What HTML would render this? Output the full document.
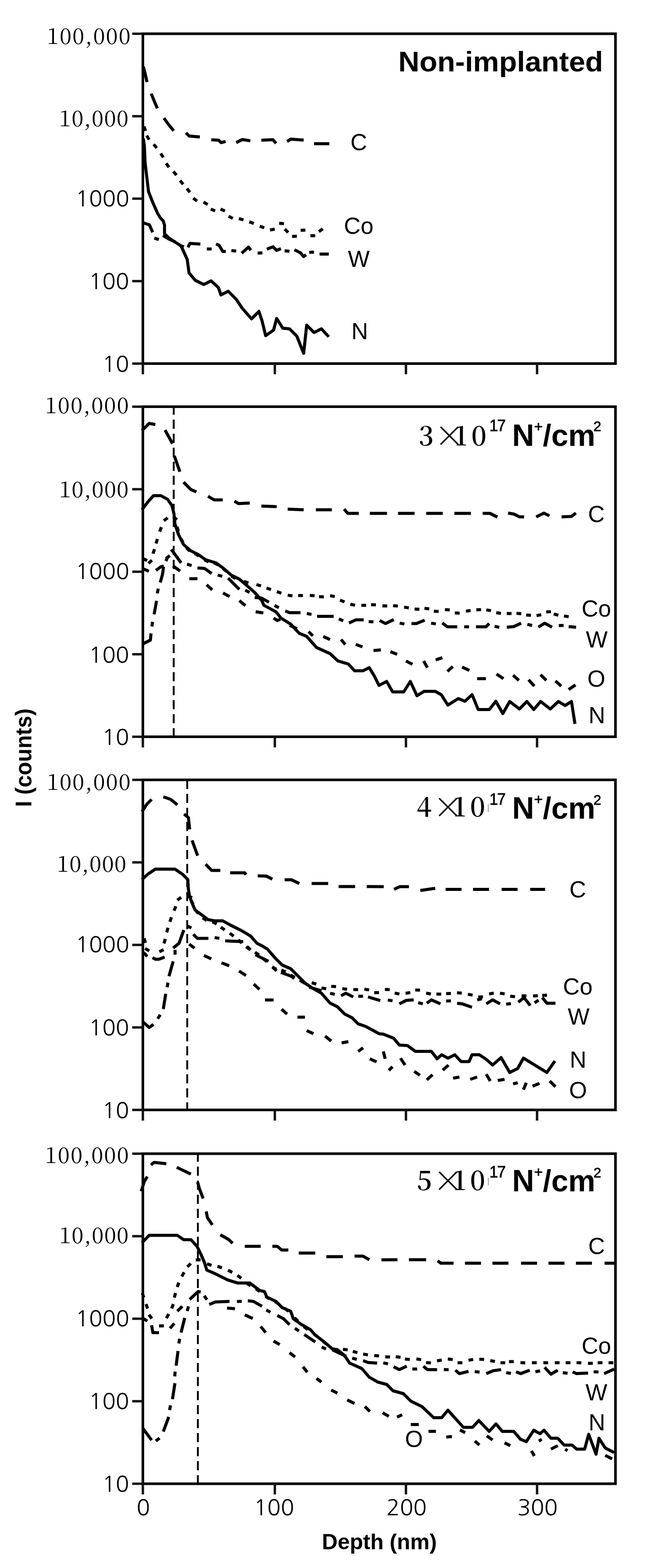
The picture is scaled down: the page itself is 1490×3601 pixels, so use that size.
<!DOCTYPE html><html><head><meta charset="utf-8"><title>SIMS depth profiles</title>
<style>html,body{margin:0;padding:0;background:#fff;}svg{display:block;}.s{font-family:'Liberation Sans', Arial, Helvetica, sans-serif;}.r{font-family:'Noto Serif CJK SC', 'Liberation Serif', serif;}.d{font-family:'NanumGothic', 'Liberation Sans', sans-serif;}</style></head><body>
<svg width="1490" height="3601" viewBox="0 0 1490 3601">
<rect width="1490" height="3601" fill="#fff"/>
<g><rect x="328" y="77.5" width="1085" height="757.5" fill="none" stroke="#000" stroke-width="6"/><line x1="303.5" y1="77.5" x2="328" y2="77.5" stroke="#111" stroke-width="5.5"/><line x1="303.5" y1="266.9" x2="328" y2="266.9" stroke="#111" stroke-width="5.5"/><line x1="303.5" y1="456.2" x2="328" y2="456.2" stroke="#111" stroke-width="5.5"/><line x1="303.5" y1="645.6" x2="328" y2="645.6" stroke="#111" stroke-width="5.5"/><line x1="303.5" y1="835" x2="328" y2="835" stroke="#111" stroke-width="5.5"/><line x1="328" y1="835" x2="328" y2="859.5" stroke="#111" stroke-width="5.5"/><line x1="631" y1="835" x2="631" y2="859.5" stroke="#111" stroke-width="5.5"/><line x1="932" y1="835" x2="932" y2="859.5" stroke="#111" stroke-width="5.5"/><line x1="1233" y1="835" x2="1233" y2="859.5" stroke="#111" stroke-width="5.5"/><text class="r" x="107.4" y="101" font-size="50" letter-spacing="1.85">100,000</text><text class="r" x="135.5" y="289.8" font-size="50" letter-spacing="1.15">10,000</text><text class="d" x="173.3" y="473.5" font-size="51">1000</text><text class="d" x="203.8" y="664" font-size="51">100</text><text class="d" x="234.6" y="853.5" font-size="51">10</text><g fill="none" stroke="#000" stroke-width="7" stroke-linejoin="round" stroke-linecap="butt"><polyline points="329,153 333,168 337.5,188.5"/><polyline points="347.2,215 354,232 361.3,248.8"/><polyline points="376.3,271.3 387,286 398.8,300.4"/><polyline points="427,305 434.4,312.6 458.8,314.5"/><polyline points="485,321 502,322 507.6,327.6 518,324.8"/><polyline points="542.3,327.5 556.4,320.5 574.7,323.3"/><polyline points="600,322 626.7,320.8 633.8,329.3"/><polyline points="659,325 667.5,319.4 697.1,321.7"/><polyline points="721,330 756.2,330"/><polyline points="330.6,290.3 334.2,300.7"/><polyline points="336.8,311.3 342.4,320.7"/><polyline points="352.9,331.3 359.7,339.9"/><polyline points="369,352.4 375,361.6"/><polyline points="381.5,375.1 387.9,384.1"/><polyline points="398.1,393.7 405.1,402.3"/><polyline points="413.6,414.7 420.4,423.3"/><polyline points="429.2,433 436,441.6"/><polyline points="443.6,455.1 452.4,461.7"/><polyline points="467.3,464.1 476.7,469.7"/><polyline points="483.8,480.3 494,484.3"/><polyline points="506.3,480.2 516.5,484.4"/><polyline points="524.8,496.7 534.6,501.7"/><polyline points="548.3,502.2 558.9,504.8"/><polyline points="572.3,509.4 582.7,513.2"/><polyline points="596.3,519.6 606.7,523"/><polyline points="619.9,528.2 630.7,526.2"/><polyline points="640.9,512.7 651.9,513.7"/><polyline points="653.8,526.1 661.6,533.9"/><polyline points="670.5,542.9 681.5,542.5"/><polyline points="690.2,528.9 701.2,528.5"/><polyline points="712.7,541.3 723.7,541.3"/><polyline points="732,531.8 741,525.6"/><polyline points="328,511 331,512.5 343,516.3 350.5,533.5"/><polyline points="354.3,546.8 364.7,550.2"/><polyline points="374,541 388,549 403,556"/><polyline points="411.9,562.9 422.1,567.1"/><polyline points="431.6,568 436,559 460,560.5"/><polyline points="474.9,571.8 485.9,571.8"/><polyline points="496,560.5 503,563.3 511.4,577.4 518.4,577.4"/><polyline points="531.2,575.4 542.2,576.6"/><polyline points="555,581.6 570.5,567.5 576,574.6"/><polyline points="591.5,581.3 602.5,580.7"/><polyline points="612.7,572.3 626.7,566.7 635.2,575 645,570.9"/><polyline points="653.5,576 664.5,577"/><polyline points="676,573.7 690,580.7 697.1,589.2 702.7,585"/><polyline points="709.9,579.6 720.9,579"/><polyline points="733.7,583.5 754.8,583.5"/></g><polyline fill="none" stroke="#000" stroke-width="7" stroke-linejoin="round" points="329,318 331.5,335 333,372.6 338.3,417.6 341,440 351,465.5 362.2,490.8 367.8,500 374.9,507.7 377.7,516.9 377.7,536.6 387.5,546.4 400.2,554.9 415.7,564.7 429.8,595.7 434,626.7 448,643.5 467.8,653.4 484.6,645 501.5,660.4 507.2,677.3 524,668.9 542.3,687.2 556.4,708.3 577.5,732.2 594.4,715.3 601.5,736.4 609.9,771 628.1,758 635.2,731.3 649.3,753.8 664.7,755.2 681.6,772.1 697.1,811.5 704.1,746.8 721,763.7 737.9,755.2 754.8,773.5"/></g>
<g><rect x="328" y="934" width="1085" height="758" fill="none" stroke="#000" stroke-width="6"/><line x1="303.5" y1="934" x2="328" y2="934" stroke="#111" stroke-width="5.5"/><line x1="303.5" y1="1123.5" x2="328" y2="1123.5" stroke="#111" stroke-width="5.5"/><line x1="303.5" y1="1313" x2="328" y2="1313" stroke="#111" stroke-width="5.5"/><line x1="303.5" y1="1502.5" x2="328" y2="1502.5" stroke="#111" stroke-width="5.5"/><line x1="303.5" y1="1692" x2="328" y2="1692" stroke="#111" stroke-width="5.5"/><line x1="328" y1="1692" x2="328" y2="1716.5" stroke="#111" stroke-width="5.5"/><line x1="631" y1="1692" x2="631" y2="1716.5" stroke="#111" stroke-width="5.5"/><line x1="932" y1="1692" x2="932" y2="1716.5" stroke="#111" stroke-width="5.5"/><line x1="1233" y1="1692" x2="1233" y2="1716.5" stroke="#111" stroke-width="5.5"/><text class="r" x="103.2" y="949.2" font-size="50" letter-spacing="1.85">100,000</text><text class="r" x="135.7" y="1141.6" font-size="50" letter-spacing="1.15">10,000</text><text class="d" x="173.3" y="1329.9" font-size="51">1000</text><text class="d" x="203.8" y="1521.5" font-size="51">100</text><text class="d" x="234.6" y="1711.4" font-size="51">10</text><line x1="398.8" y1="931.6" x2="398.8" y2="1692" stroke="#000" stroke-width="4.3" stroke-dasharray="21 11.2"/><g fill="none" stroke="#000" stroke-width="7" stroke-linejoin="round" stroke-linecap="butt"><polyline points="326,989 342.5,972.2 356.6,975"/><polyline points="379,987.7 396,1018.7"/><polyline points="400.2,1046.8 412.9,1083.4"/><polyline points="421.3,1107.3 438.2,1124.2 450.9,1129.8"/><polyline points="477.6,1139.7 491.7,1148.1 511.4,1148.1"/><polyline points="538.1,1151 548,1156.6 573.3,1155.2"/><polyline points="600,1162.2 635.2,1163.6"/><polyline points="660.5,1169.3 697.1,1170.7"/><polyline points="725.2,1170.7 761.8,1170.7"/><polyline points="790,1169.3 798.4,1179 823.8,1179"/><polyline points="849,1179 888.5,1179"/><polyline points="913.8,1179 951.8,1179"/><polyline points="978.5,1179 1016.5,1179"/><polyline points="1043.2,1179 1081.2,1179"/><polyline points="1108,1179 1124.9,1179 1141.8,1187.5"/><polyline points="1166.5,1178.3 1180.4,1180.8 1193,1187.1 1203.2,1187.1"/><polyline points="1231,1187.1 1248.8,1178.3 1261.4,1184.6"/><polyline points="1289.3,1187.1 1312.1,1185.9 1322.2,1178.3"/><polyline points="327.8,1282.8 337.8,1287.2"/><polyline points="340.8,1294 348.8,1286.6"/><polyline points="351.3,1271.5 354.7,1261.1"/><polyline points="358.2,1248.3 361.4,1237.7"/><polyline points="366.4,1220.8 370.6,1210.6"/><polyline points="376.1,1195.8 384.9,1189.2"/><polyline points="397.7,1186.5 406.3,1193.5"/><polyline points="406.4,1209.7 409.6,1220.3"/><polyline points="415.5,1237.1 420.5,1246.9"/><polyline points="428,1258.2 436,1265.8"/><polyline points="447.3,1271.1 456.7,1276.9"/><polyline points="469,1285.6 479,1290.4"/><polyline points="491.1,1292.5 500.9,1297.5"/><polyline points="511.7,1305.6 520.3,1312.4"/><polyline points="531.2,1323.3 540.8,1328.7"/><polyline points="559.7,1335.4 570.3,1338.6"/><polyline points="588.7,1342.5 599.3,1345.5"/><polyline points="611.8,1350.4 622.2,1354"/><polyline points="635.6,1358.9 646,1362.3"/><polyline points="660.6,1366.9 671.4,1368.5"/><polyline points="684.5,1367.7 695.5,1367.7"/><polyline points="711.3,1367.4 722.3,1368"/><polyline points="732.5,1370.3 743.5,1370.7"/><polyline points="757.8,1367.9 768.6,1370.1"/><polyline points="780.7,1378.1 790.9,1382.5"/><polyline points="804.3,1387.7 815.1,1389.9"/><polyline points="829.5,1390.2 840.5,1390.2"/><polyline points="852,1388.7 863,1388.9"/><polyline points="878,1391.2 889,1391.8"/><polyline points="902.5,1391 913.5,1391.8"/><polyline points="927.8,1394.4 938.6,1396"/><polyline points="951.8,1398.7 962.8,1399.3"/><polyline points="974.5,1397.1 985.5,1398.3"/><polyline points="996.1,1403.7 1007.1,1404.3"/><polyline points="1021.5,1399.9 1032.5,1400.7"/><polyline points="1044.2,1407.6 1055.2,1408.2"/><polyline points="1069.6,1403.6 1080.4,1402"/><polyline points="1093.5,1400.5 1104.5,1400.1"/><polyline points="1116.5,1400.6 1127.3,1402.4"/><polyline points="1139.3,1407 1150.1,1408.8"/><polyline points="1163.4,1408.9 1174.4,1409.1"/><polyline points="1185.7,1408.5 1196.7,1409.5"/><polyline points="1208,1412.3 1219,1413.3"/><polyline points="1231.8,1413.7 1242.6,1411.9"/><polyline points="1254,1405.2 1265,1404.8"/><polyline points="1271.3,1410.1 1281.9,1412.9"/><polyline points="1294.8,1414.6 1305.6,1416.4"/><polyline points="328.4,1478.5 345.3,1470 346.7,1454.6"/><polyline points="348.6,1438.9 350.4,1428.1"/><polyline points="353.8,1410.8 359.4,1379.8"/><polyline points="361.1,1362.7 363.3,1351.9"/><polyline points="368,1337.6 373.3,1318 375.5,1301.5"/><polyline points="380.8,1288.5 385.2,1278.5"/><polyline points="393,1262 397,1266.8 415.8,1292.6"/><polyline points="429.3,1295.7 439.9,1298.9"/><polyline points="453.3,1304.3 469.7,1305.5 486,1317.2"/><polyline points="499.7,1320.5 510.3,1323.5"/><polyline points="523.7,1327.7 549.5,1353.5"/><polyline points="563.1,1355.4 572.9,1360.6"/><polyline points="584.7,1372.3 600,1373.3 617.5,1383"/><polyline points="630.3,1390.4 640.1,1395.6"/><polyline points="654.9,1402.9 664.7,1407 690,1407"/><polyline points="704.4,1408.8 715.2,1411.2"/><polyline points="728,1415.5 766,1415.5"/><polyline points="778,1421.4 788,1425.8"/><polyline points="801.2,1430.7 816.7,1423.6 835,1423.6"/><polyline points="846.4,1427.6 857.4,1428"/><polyline points="871.6,1425 885,1432 904,1423"/><polyline points="917.6,1430.8 928.4,1433.2"/><polyline points="944.6,1432 956,1432 975,1424.3"/><polyline points="989.8,1431.1 1000.6,1432.9"/><polyline points="1015.5,1430.7 1027,1439.5 1049.7,1439.5"/><polyline points="1065.7,1439.5 1076.7,1439.5"/><polyline points="1092.8,1439.5 1115.6,1439.5 1123.2,1432"/><polyline points="1135.5,1438.4 1146.3,1440.6"/><polyline points="1163.6,1440.4 1179.4,1439 1196.5,1431.2"/><polyline points="1210.8,1433.9 1221.6,1436.5"/><polyline points="1235.9,1440.4 1250.3,1431.2 1267.4,1440.4"/><polyline points="1282.9,1436.7 1293.9,1436.3"/><polyline points="1305.5,1439 1322.6,1440.4"/><polyline points="328,1306 341.8,1312"/><polyline points="358,1310 369.5,1301.5 376,1300"/><polyline points="381,1283 390,1276"/><polyline points="397,1299.6 413.5,1311.3"/><polyline points="434.6,1329 453.3,1329"/><polyline points="474.4,1343 487.3,1354.7"/><polyline points="512,1361.8 527.2,1370"/><polyline points="549.5,1379.3 563.5,1391"/><polyline points="587,1405 604.6,1407.5"/><polyline points="628,1419.4 636.6,1425 643.6,1422.2"/><polyline points="665,1436 682,1444"/><polyline points="708.4,1450.4 718.2,1460.2"/><polyline points="742.1,1461.6 757.6,1468.7"/><polyline points="783,1468.7 792.8,1480"/><polyline points="816.7,1480 832.2,1485.5"/><polyline points="857.5,1494 874.4,1492.6"/><polyline points="896.5,1496.5 911.7,1502.8"/><polyline points="932,1518 947,1525.6"/><polyline points="972.5,1518 981.3,1533.2"/><polyline points="1000.3,1515.5 1015.5,1510.4"/><polyline points="1027,1542 1039.6,1530.7"/><polyline points="1061,1532 1077.6,1539.6"/><polyline points="1095.3,1558.6 1115.6,1558.6"/><polyline points="1140,1548 1155.8,1558.6"/><polyline points="1178,1550.7 1191.2,1562.6"/><polyline points="1213.5,1561.2 1226.7,1575.7"/><polyline points="1241,1549.4 1254.3,1562.6"/><polyline points="1275.3,1563.9 1288.4,1575.7"/><polyline points="1305.5,1583.6 1321.2,1573"/></g><polyline fill="none" stroke="#000" stroke-width="7" stroke-linejoin="round" points="326,1170.6 339.7,1152.3 352.4,1138.3 369.3,1138.3 384.7,1146.7 394.6,1160.8 399.5,1180 401.5,1203 410,1228 421,1250 437,1264.4 455.7,1273.8 472,1285.5 495.5,1292.6 512,1304.3 530.7,1320.7 549.5,1330 566,1344 584.7,1360.6 601,1379.3 605.8,1390 633.8,1405.3 645,1419.4 667.5,1433.5 687.2,1454.6 704.1,1461.6 726.7,1487 757.6,1501 775.9,1517.9 799.8,1525 813.9,1540.4 833.6,1540.4 847.7,1533.4 858.9,1551.7 870.2,1574.2 887.6,1565 901.5,1589 926.9,1589 942,1565 957.3,1597.8 973.7,1587.7 999,1587.7 1013,1595.3 1028.2,1619.4 1052.2,1604.2 1067.4,1610.5 1083.9,1595.3 1097.8,1629.5 1123.2,1629.5 1138.4,1610.5 1154.4,1638.7 1170.2,1611 1192.5,1628.2 1209.6,1611 1225.4,1629.5 1241.1,1611 1263.5,1628.2 1281.8,1611 1297.6,1620.3 1312,1611 1320,1662.4"/></g>
<g><rect x="328" y="1791" width="1085" height="758" fill="none" stroke="#000" stroke-width="6"/><line x1="303.5" y1="1791" x2="328" y2="1791" stroke="#111" stroke-width="5.5"/><line x1="303.5" y1="1980.5" x2="328" y2="1980.5" stroke="#111" stroke-width="5.5"/><line x1="303.5" y1="2170" x2="328" y2="2170" stroke="#111" stroke-width="5.5"/><line x1="303.5" y1="2359.5" x2="328" y2="2359.5" stroke="#111" stroke-width="5.5"/><line x1="303.5" y1="2549" x2="328" y2="2549" stroke="#111" stroke-width="5.5"/><line x1="328" y1="2549" x2="328" y2="2573.5" stroke="#111" stroke-width="5.5"/><line x1="631" y1="2549" x2="631" y2="2573.5" stroke="#111" stroke-width="5.5"/><line x1="932" y1="2549" x2="932" y2="2573.5" stroke="#111" stroke-width="5.5"/><line x1="1233" y1="2549" x2="1233" y2="2573.5" stroke="#111" stroke-width="5.5"/><text class="r" x="107.4" y="1814.4" font-size="50" letter-spacing="1.85">100,000</text><text class="r" x="130.5" y="2002" font-size="50" letter-spacing="1.15">10,000</text><text class="d" x="173.3" y="2186.7" font-size="51">1000</text><text class="d" x="203.8" y="2378" font-size="51">100</text><text class="d" x="234.6" y="2567.8" font-size="51">10</text><line x1="429.8" y1="1790.9" x2="429.8" y2="2549" stroke="#000" stroke-width="4.3" stroke-dasharray="21 11.2"/><g fill="none" stroke="#000" stroke-width="7" stroke-linejoin="round" stroke-linecap="butt"><polyline points="326,1864 337,1847 348.1,1835.7"/><polyline points="374.9,1830 391.8,1835.7 407.2,1848.3"/><polyline points="422.7,1869.4 432.6,1877.9 435.4,1904.6"/><polyline points="441,1930 453.7,1965.1"/><polyline points="472,1984.8 486,1999 505.8,1999"/><polyline points="528.3,2004.5 562,2004.5 564.9,2008.8"/><polyline points="591.6,2011.6 611.3,2012 625.3,2019"/><polyline points="653.5,2020.5 669,2020.5 687.2,2029"/><polyline points="715.4,2029 753.4,2029"/><polyline points="777.3,2036 815.3,2036"/><polyline points="842,2036 881,2036.2"/><polyline points="904.7,2042.5 917.8,2036.2 938.8,2036.2"/><polyline points="965,2045 999.2,2040"/><polyline points="1022.9,2042.5 1059.6,2042.5"/><polyline points="1086,2042.5 1122.7,2042.5"/><polyline points="1151.6,2042.5 1188.3,2042.5"/><polyline points="1217.2,2042.5 1251.4,2042.5"/><polyline points="331,2154.9 333.8,2165.5"/><polyline points="333.2,2178.2 342.6,2183.8"/><polyline points="365.9,2185.8 375.7,2181"/><polyline points="376.5,2166.8 379.5,2156.2"/><polyline points="382.7,2141.2 385.7,2130.6"/><polyline points="390,2117 393.6,2106.6"/><polyline points="399.5,2091.5 403.7,2081.3"/><polyline points="407.1,2067.3 415.9,2060.7"/><polyline points="430.7,2058.6 441.3,2061.4"/><polyline points="438.7,2067 443.3,2077"/><polyline points="448.7,2089.6 455.3,2098.4"/><polyline points="465.3,2108.1 474.7,2113.9"/><polyline points="487.6,2116.9 497.4,2121.9"/><polyline points="506.8,2129.4 515.8,2135.6"/><polyline points="527.6,2143.3 536.4,2149.9"/><polyline points="546.8,2158.5 555.2,2165.5"/><polyline points="565,2174.4 574,2180.8"/><polyline points="585.5,2186.8 594.5,2193.2"/><polyline points="604.2,2201.5 612.6,2208.5"/><polyline points="624.9,2220.5 634.3,2226.1"/><polyline points="646,2227.8 656,2232.2"/><polyline points="667.2,2239.4 676.8,2244.6"/><polyline points="687.7,2251.1 698.1,2254.7"/><polyline points="715.8,2256.8 726.2,2260.2"/><polyline points="738.1,2269 748.9,2270.6"/><polyline points="760.5,2265.3 771.5,2265.7"/><polyline points="786,2270.4 796.8,2272"/><polyline points="811.2,2272.4 822.2,2272.8"/><polyline points="836.6,2271.8 847.4,2273.4"/><polyline points="859.1,2279.6 870.1,2279.6"/><polyline points="883.7,2272.3 894.7,2272.7"/><polyline points="906.1,2280.8 916.9,2282.6"/><polyline points="931.1,2281.3 941.9,2279.5"/><polyline points="953.3,2273.6 964.3,2274"/><polyline points="978.4,2280.7 989.2,2282.7"/><polyline points="1001.9,2283 1012.9,2283"/><polyline points="1024.2,2282 1035.2,2281.4"/><polyline points="1049.2,2280.1 1060.2,2280.7"/><polyline points="1074.2,2283.4 1085,2285.4"/><polyline points="1097.8,2289.9 1108.8,2289.3"/><polyline points="1122.8,2282.6 1133.6,2280.8"/><polyline points="1147.8,2281 1158.6,2282.4"/><polyline points="1171.3,2287.7 1182.3,2288.9"/><polyline points="1197.5,2287.1 1208.5,2286.9"/><polyline points="1223.8,2287.2 1234.8,2286.8"/><polyline points="1244.8,2286 1255.8,2285.4"/><polyline points="328.4,2347 342.5,2359.6 352.4,2352.6"/><polyline points="362,2339.6 368,2330.4"/><polyline points="374.9,2317.4 380.5,2282.2"/><polyline points="383.7,2267.4 385.7,2256.6"/><polyline points="387.9,2242 397.6,2207.8"/><polyline points="401.9,2192.5 401.9,2181.5"/><polyline points="397.6,2177.3 411,2166.3 422,2135.9"/><polyline points="429.4,2126.5 439.4,2131.1"/><polyline points="443.8,2145.7 453.1,2155 478.5,2155"/><polyline points="492.8,2153.3 503.6,2154.9"/><polyline points="517,2160.7 558.2,2162.6"/><polyline points="567.5,2173.6 575.1,2181.6"/><polyline points="586.4,2192.6 616.4,2207.6"/><polyline points="626.9,2222.3 635.1,2229.7"/><polyline points="645,2233.2 667.5,2241.5 676,2247.2"/><polyline points="691,2252.9 700.4,2258.5"/><polyline points="709.8,2267 738,2275.4"/><polyline points="757.9,2281.1 768.5,2283.7"/><polyline points="783,2286.6 794.2,2281 811,2289.5"/><polyline points="822.5,2288 833.5,2288"/><polyline points="844.9,2289.5 873,2297.9"/><polyline points="890.4,2296.6 901.2,2298.4"/><polyline points="916.8,2305.4 932.5,2297.5 949.6,2296.2"/><polyline points="960.1,2302.6 970.7,2305.4"/><polyline points="979.8,2304 990.3,2296.2 1011.3,2305.4"/><polyline points="1024.2,2299 1035.2,2298.6"/><polyline points="1049.4,2304 1061.2,2305.4 1083.6,2313.2"/><polyline points="1095.6,2296.3 1106.4,2293.7"/><polyline points="1116.4,2305.4 1130.9,2296.2 1148,2305.4"/><polyline points="1162.1,2305.9 1173.1,2304.9"/><polyline points="1190,2301.4 1203,2291 1217.5,2309.3"/><polyline points="1227.4,2303 1236.6,2297"/><polyline points="1245,2291 1255.6,2304 1275.3,2304"/><polyline points="328,2187 333,2190.7 337.9,2196.8"/><polyline points="350,2199.3 357.4,2203 364.7,2203 378,2198"/><polyline points="434.4,2168.2 446.6,2177.6"/><polyline points="468.2,2194.4 485,2202"/><polyline points="508.5,2211.3 526.3,2217.9"/><polyline points="548.8,2230 564.8,2240.4"/><polyline points="582.6,2260 595.7,2272.3"/><polyline points="608.4,2296.5 628.1,2296.5"/><polyline points="646.4,2317.6 659,2328.9"/><polyline points="683,2336 700,2336"/><polyline points="704.1,2366.9 719.6,2373.9"/><polyline points="746.4,2379.5 760.4,2390.8"/><polyline points="784.3,2395 799.8,2392.2"/><polyline points="822.3,2414.7 833.6,2406.3"/><polyline points="849,2431.6 864.6,2438.6"/><polyline points="880,2414.7 884.3,2431.6"/><polyline points="892.7,2458.3 901,2449.8"/><polyline points="919.4,2430.1 930,2446"/><polyline points="951,2460.3 964,2469.5"/><polyline points="979.8,2480 993,2468.2"/><polyline points="1016.6,2457.7 1029.7,2446"/><polyline points="1040.2,2476.1 1054.7,2473.5"/><polyline points="1079.6,2478.7 1095.4,2473.5"/><polyline points="1116.4,2467 1125.6,2482.7"/><polyline points="1142.7,2481.4 1158.4,2478.7"/><polyline points="1178,2489.2 1188.6,2486.6"/><polyline points="1201.7,2502.4 1208.3,2486.6"/><polyline points="1222.7,2494.5 1238.5,2488"/><polyline points="1262.1,2482.7 1275.3,2495.8"/></g><polyline fill="none" stroke="#000" stroke-width="7" stroke-linejoin="round" points="326,2020 339.7,2007.3 356.6,1996 401.6,1996 418.5,2007.3 431.2,2020 432.3,2040 434.5,2055 439,2069 443.5,2080 448,2090 462.5,2100.6 477.5,2111.9 492.5,2114.7 511.3,2114.7 530,2125 556.3,2138.2 575,2149.4 590,2166.3 600,2171.3 614,2179.7 631,2199.4 647.8,2216.3 667.5,2224.7 684.4,2241.6 701.3,2258.5 718.2,2269.8 738,2281 757.6,2303.5 774.5,2312 791.4,2328.9 808.3,2337.3 822.3,2351.4 839.2,2357 870.2,2373.9 880,2375 903.6,2384.2 916.8,2400 935.2,2401.2 953.5,2414.4 990.3,2414.4 1003.5,2431.5 1014,2422.3 1028.4,2430.1 1044.2,2422.3 1058.6,2438 1077,2438 1083.6,2422.3 1100.6,2422.3 1116.4,2432.8 1130.9,2445.9 1150.5,2428.8 1170.2,2463 1188.6,2453.8 1201.7,2430 1255.6,2463 1274,2436.7"/></g>
<g><rect x="328" y="2649.5" width="1085" height="758" fill="none" stroke="#000" stroke-width="6"/><line x1="303.5" y1="2649.5" x2="328" y2="2649.5" stroke="#111" stroke-width="5.5"/><line x1="303.5" y1="2839" x2="328" y2="2839" stroke="#111" stroke-width="5.5"/><line x1="303.5" y1="3028.5" x2="328" y2="3028.5" stroke="#111" stroke-width="5.5"/><line x1="303.5" y1="3218" x2="328" y2="3218" stroke="#111" stroke-width="5.5"/><line x1="303.5" y1="3407.5" x2="328" y2="3407.5" stroke="#111" stroke-width="5.5"/><line x1="328" y1="3407.5" x2="328" y2="3432" stroke="#111" stroke-width="5.5"/><line x1="631" y1="3407.5" x2="631" y2="3432" stroke="#111" stroke-width="5.5"/><line x1="932" y1="3407.5" x2="932" y2="3432" stroke="#111" stroke-width="5.5"/><line x1="1233" y1="3407.5" x2="1233" y2="3432" stroke="#111" stroke-width="5.5"/><text class="r" x="103.2" y="2671.1" font-size="50" letter-spacing="1.85">100,000</text><text class="r" x="135.7" y="2855.2" font-size="50" letter-spacing="1.15">10,000</text><text class="d" x="173.3" y="3046" font-size="51">1000</text><text class="d" x="203.8" y="3236" font-size="51">100</text><text class="d" x="234.6" y="3426" font-size="51">10</text><line x1="454.3" y1="2647.1" x2="454.3" y2="3407.5" stroke="#000" stroke-width="4.3" stroke-dasharray="21 11.2"/><g fill="none" stroke="#000" stroke-width="7" stroke-linejoin="round" stroke-linecap="butt"><polyline points="324.2,2735.7 331.3,2713.2 338.3,2702"/><polyline points="346.7,2675.2 353.8,2669.6 381.9,2672.4"/><polyline points="405.8,2680.8 438.2,2696.3"/><polyline points="453.7,2714.6 457.9,2730 466.4,2752.6"/><polyline points="473.4,2782 476.2,2796.2 487.5,2813.1"/><polyline points="505.8,2835.6 525.5,2846.9 533.9,2855.3"/><polyline points="562,2862.3 598.6,2862.3"/><polyline points="625.3,2862.2 636.6,2862.2 646.4,2870.7 662,2870.7"/><polyline points="685.8,2877.7 723.8,2877.7"/><polyline points="749.2,2886.1 787.2,2886.1"/><polyline points="814,2884.7 833.6,2884.7 847.7,2893.2"/><polyline points="875.8,2893.2 912.5,2893"/><polyline points="938.8,2893 978.2,2893"/><polyline points="1004.5,2895.7 1012.3,2901 1041.2,2901"/><polyline points="1067.5,2901 1104.3,2901"/><polyline points="1130.5,2901 1167.3,2901"/><polyline points="1196.2,2901 1233,2901"/><polyline points="1259.2,2901 1296,2901"/><polyline points="1322.3,2901 1359,2901"/><polyline points="1388,2901 1410,2901"/><polyline points="326.6,2969.4 330.2,2979.8"/><polyline points="335.2,2994.8 338.8,3005.2"/><polyline points="342,3019.4 348.6,3028.2"/><polyline points="365.2,3045.2 376.2,3044.8"/><polyline points="382,3027.2 387.4,3017.6"/><polyline points="394.2,3005.2 397.8,2994.8"/><polyline points="400.2,2979.9 403,2969.3"/><polyline points="406.7,2955.8 410.7,2945.6"/><polyline points="417.3,2931.5 422.7,2921.9"/><polyline points="430,2909.4 438,2901.8"/><polyline points="449.5,2893.5 460.5,2893.1"/><polyline points="475.2,2902.4 485.6,2906"/><polyline points="499.2,2908.2 509.6,2911.6"/><polyline points="523.4,2917.2 533.2,2922.2"/><polyline points="544.9,2929.2 553.9,2935.6"/><polyline points="566.5,2946.8 575.5,2953.2"/><polyline points="587.5,2959.9 596.5,2966.1"/><polyline points="609.4,2977 618.6,2983"/><polyline points="631.4,2989 640.6,2995"/><polyline points="653.8,3004.4 662.2,3011.6"/><polyline points="676,3026.2 684,3033.8"/><polyline points="697.7,3046.5 706.3,3053.5"/><polyline points="719.6,3062.6 728.4,3069.4"/><polyline points="741.6,3080.6 750.4,3087.4"/><polyline points="762.8,3098.3 773.2,3101.7"/><polyline points="787.3,3098.8 798.3,3100"/><polyline points="810,3103.7 820.6,3106.3"/><polyline points="833.8,3109.8 844.6,3111.6"/><polyline points="859.1,3112.9 870.1,3114.1"/><polyline points="884.4,3116 895.4,3116.6"/><polyline points="908.6,3115.8 919.6,3117.2"/><polyline points="929.7,3121.1 940.7,3122.3"/><polyline points="956,3120.8 966.8,3122.6"/><polyline points="978.3,3129.3 989.3,3129.9"/><polyline points="1003.3,3125.3 1014.1,3123.5"/><polyline points="1028.2,3121.1 1039.2,3122.3"/><polyline points="1050.5,3129.4 1061.5,3129.8"/><polyline points="1075.6,3123.9 1086.4,3122.1"/><polyline points="1100.4,3121.4 1111.4,3122"/><polyline points="1125.5,3124.8 1136.3,3126.6"/><polyline points="1149,3129.4 1160,3129.8"/><polyline points="1168.6,3127 1179.6,3127"/><polyline points="1194.9,3129.3 1205.9,3129.9"/><polyline points="1221.2,3129.6 1232.2,3129.6"/><polyline points="1247.5,3129.6 1258.5,3129.6"/><polyline points="1273.7,3129.6 1284.7,3129.6"/><polyline points="1298.7,3129.6 1309.7,3129.6"/><polyline points="1323.6,3129.4 1334.6,3129.8"/><polyline points="1349.9,3131 1360.9,3131"/><polyline points="1372.2,3129.8 1383.2,3129.4"/><polyline points="1397.2,3129.6 1408.2,3129.6"/><polyline points="328.4,3280.7 348.1,3307.5"/><polyline points="357.6,3309.3 366.4,3302.7"/><polyline points="374.9,3287.8 387.5,3254"/><polyline points="389.3,3238.3 391.5,3227.5"/><polyline points="396,3213.2 401.6,3176.6"/><polyline points="401.2,3161 402,3150"/><polyline points="404.4,3136.4 408.7,3102.6"/><polyline points="410.6,3085.4 412.4,3074.6"/><polyline points="415.7,3060.4 424.1,3026.7"/><polyline points="429.8,3010.8 432.6,3000.2"/><polyline points="435.4,2984.4 455,2966 460.7,2967.5"/><polyline points="468.9,2975.7 475.1,2984.7"/><polyline points="480.4,2995.7 494.5,2990 526.9,2988.7"/><polyline points="543.9,2988.9 554.9,2988.5"/><polyline points="569,2987.2 581.7,2988.7 601.5,3000"/><polyline points="611.3,3008.2 620.7,3013.8"/><polyline points="636.6,3021.2 650.7,3028.3 664.7,3042.3"/><polyline points="677,3050.5 686.2,3056.7"/><polyline points="698.5,3064.9 723.8,3081.8"/><polyline points="738.5,3093.5 748.5,3098.1"/><polyline points="763.2,3100 795,3115"/><polyline points="808.6,3119.2 819.2,3121.8"/><polyline points="833.6,3124.7 844.9,3129 866,3130.4"/><polyline points="879.9,3129.8 890.7,3132.2"/><polyline points="903.6,3138.8 916.8,3145.4 933.8,3137.5"/><polyline points="946.7,3144 957.7,3144"/><polyline points="972,3137.5 981.1,3145.4 1003.5,3145.4"/><polyline points="1019,3145.2 1030,3145.6"/><polyline points="1045.5,3146.7 1054.7,3154.6 1075.7,3149.3"/><polyline points="1089.9,3149.9 1100.9,3151.3"/><polyline points="1116.4,3154.6 1132.2,3148 1150.5,3145.4"/><polyline points="1162.2,3152.4 1173,3154"/><polyline points="1184.7,3150.6 1195.2,3154.6 1216.2,3146.7"/><polyline points="1229.2,3150.3 1240,3148.3"/><polyline points="1250.3,3140.1 1264.8,3155.9 1280.5,3146.7"/><polyline points="1292.1,3152.6 1303.1,3153.8"/><polyline points="1314.7,3150.6 1323.9,3154.6 1350.1,3153.2"/><polyline points="1363,3150.4 1374,3150.8"/><polyline points="1386.9,3154.6 1410,3144.3"/><polyline points="328,3027 338,3034"/><polyline points="348,3043.5 351,3060.4 365,3060.4"/><polyline points="390.4,3050.6 400.2,3039.3"/><polyline points="407.2,3011.2 418.5,3000"/><polyline points="521.2,3004 539.5,3005.5"/><polyline points="562,3019.6 580.3,3028"/><polyline points="598.6,3046.4 610,3060.4"/><polyline points="628.1,3079.7 642.2,3088.1"/><polyline points="664.7,3106.4 677.4,3116.3"/><polyline points="695.7,3138.8 705.5,3151.5"/><polyline points="726.7,3165.5 737.9,3174"/><polyline points="760.4,3192.3 774.5,3199.3"/><polyline points="797,3214.8 813.9,3223.2"/><polyline points="837.8,3230.3 849.1,3241.5"/><polyline points="878.6,3244.4 892.7,3252.8"/><polyline points="911.5,3254.4 923.3,3249.1"/><polyline points="943,3271.5 961.4,3271.5"/><polyline points="983.8,3287.2 1000.8,3287.2"/><polyline points="1024.5,3300.3 1037.6,3299"/><polyline points="1056,3284 1068,3290"/><polyline points="1090.1,3309.5 1100.6,3318.7"/><polyline points="1117.7,3297.7 1130.9,3306.9"/><polyline points="1158.4,3313.5 1171.5,3320"/><polyline points="1220.1,3331.9 1226.7,3343.7"/><polyline points="1237.2,3309.5 1243.8,3305.6"/><polyline points="1264.8,3328 1280.5,3320"/><polyline points="1297.6,3328 1302.9,3331.9"/><polyline points="1389.5,3342.4 1405.3,3350.3"/></g><polyline fill="none" stroke="#000" stroke-width="7" stroke-linejoin="round" points="326,2853.9 342.5,2837 407.2,2837 421.3,2846.9 438.2,2846.9 452.3,2862.3 460.7,2879.2 469.2,2899 474.8,2916.9 494.5,2925.3 522.6,2939.4 545.2,2946.4 573.3,2946.4 584.6,2954.9 595.8,2963.3 607.1,2966.1 612.7,2978.8 633.8,2988.9 647.8,3003 667.5,3011.4 673.2,3028.3 692.9,3042.3 712.6,3053.6 723.8,3066 743.5,3081.1 763.2,3098 774.5,3099.4 791.4,3113.5 802.6,3130.4 830.8,3143 847.7,3162.7 867.4,3174 887.9,3179.5 902.3,3194 926,3200.5 943,3217.6 969.3,3230.7 995.6,3255.7 1014,3255.7 1028.4,3238.6 1063.9,3278 1084.9,3278 1099.3,3262.3 1123,3287.2 1138.7,3270.1 1153.1,3287.2 1179.4,3287.2 1195.2,3305.6 1208.3,3310.8 1225.4,3284.6 1239.8,3292.5 1249,3284.6 1264.8,3303 1280.5,3303 1295,3318.7 1313.4,3318.7 1323.9,3328 1342.3,3328 1351.5,3293.8 1368.5,3339.7 1375.1,3303 1389.5,3325.3 1410,3335.8"/></g>
<text class="s" x="823.7" y="344.5" font-size="53" text-anchor="middle">C</text>
<text class="s" x="823.5" y="537" font-size="53" text-anchor="middle">Co</text>
<text class="s" x="823.7" y="612.5" font-size="53" text-anchor="middle">W</text>
<text class="s" x="825.8" y="778.5" font-size="53" text-anchor="middle">N</text>
<text class="s" x="1369.2" y="1198.5" font-size="53" text-anchor="middle">C</text>
<text class="s" x="1369.2" y="1415.5" font-size="53" text-anchor="middle">Co</text>
<text class="s" x="1369.9" y="1487.2" font-size="53" text-anchor="middle">W</text>
<text class="s" x="1369.2" y="1577" font-size="53" text-anchor="middle">O</text>
<text class="s" x="1370.5" y="1660.5" font-size="53" text-anchor="middle">N</text>
<text class="s" x="1326.5" y="2061" font-size="53" text-anchor="middle">C</text>
<text class="s" x="1326.5" y="2284.4" font-size="53" text-anchor="middle">Co</text>
<text class="s" x="1328.5" y="2353.4" font-size="53" text-anchor="middle">W</text>
<text class="s" x="1327.2" y="2452" font-size="53" text-anchor="middle">N</text>
<text class="s" x="1327.2" y="2522" font-size="53" text-anchor="middle">O</text>
<text class="s" x="1369.6" y="2880" font-size="53" text-anchor="middle">C</text>
<text class="s" x="1369.2" y="3108.6" font-size="53" text-anchor="middle">Co</text>
<text class="s" x="1369.2" y="3215.8" font-size="53" text-anchor="middle">W</text>
<text class="s" x="1370.5" y="3285.4" font-size="53" text-anchor="middle">N</text>
<text class="s" x="950.3" y="3322.7" font-size="53" text-anchor="middle">O</text>
<text class="d" x="313.5" y="3480" font-size="51">0</text>
<text class="d" x="582.7" y="3480" font-size="51">100</text>
<text class="d" x="887" y="3480" font-size="51">200</text>
<text class="d" x="1187.7" y="3480" font-size="51">300</text>
<text class="s" x="871" y="3558" font-size="50" font-weight="bold" text-anchor="middle">Depth (nm)</text>
<text class="s" transform="translate(71.5 1740) rotate(-90)" x="0" y="0" font-size="51" font-weight="bold" text-anchor="middle" textLength="226" lengthAdjust="spacingAndGlyphs">I (counts)</text>
<text class="s" x="1384.5" y="163.8" font-size="64" font-weight="bold" text-anchor="end" textLength="470" lengthAdjust="spacingAndGlyphs">Non-implanted</text>
<text class="r" font-size="60" font-weight="600" y="1022.6"><tspan x="961.2">3</tspan><tspan x="1044.3">1</tspan><tspan x="1082.2">0</tspan></text><text class="r" font-size="70" font-weight="900" x="996.8" y="1027.1">&#215;</text><text class="s" font-size="36" x="1123.5" y="990" letter-spacing="-2.2" stroke="#000" stroke-width="0.8">17</text><text class="s" font-size="70" font-weight="bold" x="1175.8" y="1023.5">N<tspan font-size="34" font-weight="normal" stroke="#000" stroke-width="1" dy="-32.8">+</tspan><tspan font-size="70" dy="32.8">/cm</tspan></text><text class="s" font-size="32" x="1362.5" y="990" stroke="#000" stroke-width="1">2</text>
<text class="r" font-size="60" font-weight="600" y="1875"><tspan x="956.5">4</tspan><tspan x="1041.3">1</tspan><tspan x="1079.2">0</tspan></text><text class="r" font-size="70" font-weight="900" x="993.4" y="1879.5">&#215;</text><text class="s" font-size="36" x="1123.5" y="1847.8" letter-spacing="-2.2" stroke="#000" stroke-width="0.8">17</text><text class="s" font-size="70" font-weight="bold" x="1175.8" y="1879.6">N<tspan font-size="34" font-weight="normal" stroke="#000" stroke-width="1" dy="-32.8">+</tspan><tspan font-size="70" dy="32.8">/cm</tspan></text><text class="s" font-size="32" x="1362.5" y="1847.8" stroke="#000" stroke-width="1">2</text>
<line x1="1121" y1="1847" x2="1121" y2="1865" stroke="#777" stroke-width="1.5"/>
<text class="r" font-size="60" font-weight="600" y="2733"><tspan x="957">5</tspan><tspan x="1041.3">1</tspan><tspan x="1079.2">0</tspan></text><text class="r" font-size="70" font-weight="900" x="993.4" y="2737.5">&#215;</text><text class="s" font-size="36" x="1123.5" y="2704.3" letter-spacing="-2.2" stroke="#000" stroke-width="0.8">17</text><text class="s" font-size="70" font-weight="bold" x="1175.8" y="2736">N<tspan font-size="34" font-weight="normal" stroke="#000" stroke-width="1" dy="-32.8">+</tspan><tspan font-size="70" dy="32.8">/cm</tspan></text><text class="s" font-size="32" x="1362.5" y="2704.3" stroke="#000" stroke-width="1">2</text>
<line x1="1121" y1="2705" x2="1121" y2="2722" stroke="#777" stroke-width="1.5"/>
</svg></body></html>
